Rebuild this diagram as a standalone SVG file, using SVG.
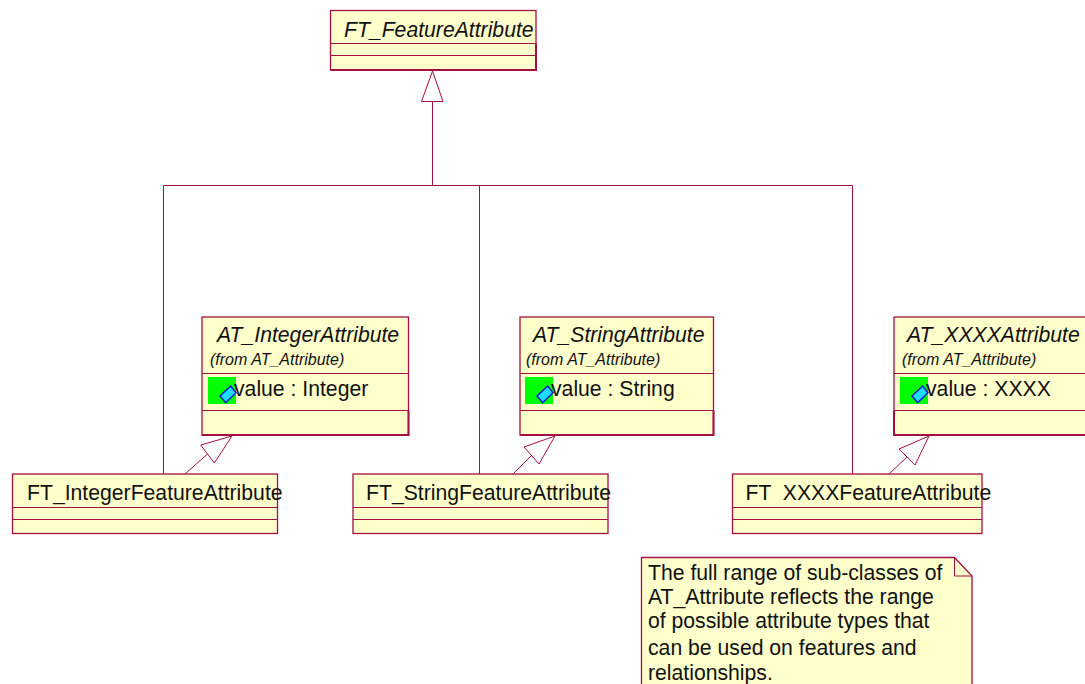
<svg xmlns="http://www.w3.org/2000/svg" width="1085" height="684" viewBox="0 0 1085 684">
<defs>
<style>
.box{fill:#ffffcb;stroke:#a50f43;stroke-width:1.3}
.sep{stroke:#a50f43;stroke-width:1;fill:none}
.edge{stroke:#a50f43;stroke-width:2;fill:none}
.con{stroke:#a50f43;stroke-width:1;fill:none}
.head{stroke:#a50f43;stroke-width:1;fill:#fff}
text{font-family:"Liberation Sans",Arial,sans-serif;fill:#111;font-size:21.2px;white-space:pre}
.it{font-style:italic}
.from{font-style:italic;font-size:16px}
.green{fill:#00ff00}
.ico{fill:#1cdcff;stroke:#0a14d0;stroke-width:1.4}
</style>
<g id="attr-icon">
<rect class="green" x="0" y="0" width="28" height="27"/>
<path class="ico" d="M12 19L22.700 9L28 15.700L17.700 25.700Z"/>
</g>
</defs>
<rect width="1085" height="684" fill="#fff"/>
<g id="connectors">
<path class="con" d="M432.500 101V185.500M163.500 185.500H852.500M163.500 185.500V474M479.500 185.500V474M852.500 185.500V474"/>
<path class="con" d="M207.500 454L185 474M531.500 455.500L513 474M907 457L889 474"/>
<path class="head" d="M432.500 71L443 101.500H421.500Z"/>
<path class="head" d="M232 436L200.700 445L214.300 463Z"/>
<path class="head" d="M555 436L524 447L539 464Z"/>
<path class="head" d="M929 436L899 449L915 465Z"/>
</g>
<g id="FT_FeatureAttribute">
<rect class="box" x="330.500" y="10.500" width="205.500" height="59.500"/>
<path class="sep" d="M330.500 43.500H536M330.500 55.500H536"/>
<path class="edge" d="M330.500 70H536V43.500"/>
<text class="it" x="344" y="37">FT_FeatureAttribute</text>
</g>
<g id="AT_IntegerAttribute">
<rect class="box" x="202" y="317" width="206.500" height="118"/>
<path class="sep" d="M202 373.500H408.500M202 410.500H408.500"/>
<path class="edge" d="M202 435H408.500V410.500"/>
<text class="it" x="217" y="342">AT_IntegerAttribute</text>
<text class="from" x="210" y="365">(from AT_Attribute)</text>
<use href="#attr-icon" x="208" y="377"/>
<text x="234" y="396">value : Integer</text>
</g>
<g id="AT_StringAttribute">
<rect class="box" x="520" y="317" width="193.500" height="118"/>
<path class="sep" d="M520 373.500H713.500M520 410.500H713.500"/>
<path class="edge" d="M520 435H713.500V410.500"/>
<text class="it" x="533" y="342">AT_StringAttribute</text>
<text class="from" x="526" y="365">(from AT_Attribute)</text>
<use href="#attr-icon" x="525" y="377"/>
<text x="551" y="396">value : String</text>
</g>
<g id="AT_XXXXAttribute">
<rect class="box" x="894" y="317" width="193" height="118"/>
<path class="sep" d="M894 373.500H1087M894 410.500H1087"/>
<path class="edge" d="M894 410.500V435H1087"/>
<text class="it" x="907" y="342">AT_XXXXAttribute</text>
<text class="from" x="902" y="365">(from AT_Attribute)</text>
<use href="#attr-icon" x="900" y="377"/>
<text x="926" y="396">value : XXXX</text>
</g>
<g id="FT_IntegerFeatureAttribute">
<rect class="box" x="12.500" y="474" width="265" height="59.500"/>
<path class="sep" d="M12.500 507.500H277.500M12.500 519.500H277.500"/>
<text x="27" y="500">FT_IntegerFeatureAttribute</text>
</g>
<g id="FT_StringFeatureAttribute">
<rect class="box" x="353" y="474" width="255" height="59.500"/>
<path class="sep" d="M353 507.500H608M353 519.500H608"/>
<text x="366" y="500">FT_StringFeatureAttribute</text>
</g>
<g id="FT_XXXXFeatureAttribute">
<rect class="box" x="732.500" y="474" width="249.500" height="59.500"/>
<path class="sep" d="M732.500 507.500H982M732.500 519.500H982"/>
<text x="745.500" y="500" xml:space="preserve">FT  XXXXFeatureAttribute</text>
</g>
<g id="note">
<path class="box" d="M641.500 690V557.500H954.500L972 576V690Z"/>
<path class="sep" d="M954.500 557.500V576H972"/>
<text x="648" y="580">The full range of sub-classes of</text>
<text x="648" y="604">AT_Attribute reflects the range</text>
<text x="648" y="628">of possible attribute types that</text>
<text x="648" y="655">can be used on features and</text>
<text x="648" y="680">relationships.</text>
</g>
</svg>
